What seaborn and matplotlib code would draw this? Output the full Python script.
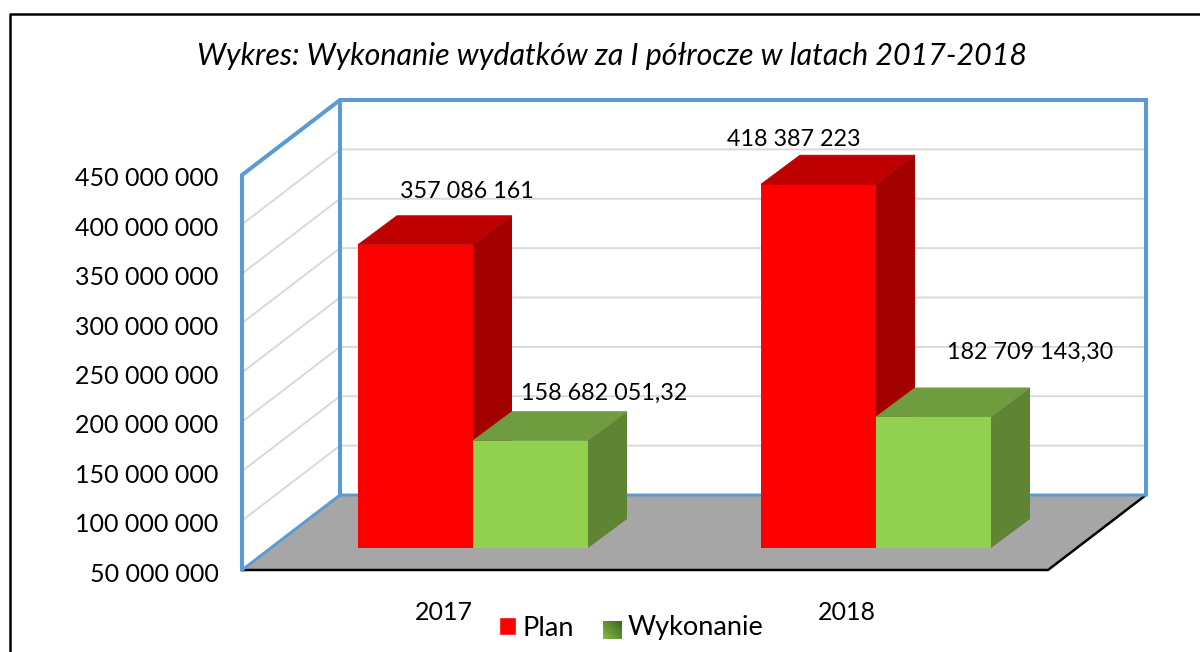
# -*- coding: utf-8 -*-
"""Wykonanie wydatkow - pseudo 3D column chart built on seaborn bars."""

import numpy as np
import pandas as pd
import matplotlib
matplotlib.use("Agg")
import matplotlib.pyplot as plt
from matplotlib.lines import Line2D
from matplotlib.patches import Patch, Polygon
from matplotlib.transforms import ScaledTranslation
import seaborn as sns

years = ["2017", "2018"]
plan_values = [357086161, 418387223]
done_values = [158682051.32, 182709143.30]
plan_labels = ["357 086 161", "418 387 223"]
done_labels = ["158 682 051,32", "182 709 143,30"]
tick_values = [50, 100, 150, 200, 250, 300, 350, 400, 450]
tick_labels = [f"{v} 000 000" for v in tick_values]
series_names = ["Plan", "Wykonanie"]

# colours
RED, RED_TOP, RED_SIDE = "#FF0000", "#BF0000", "#A30000"
GREEN, GREEN_TOP, GREEN_SIDE = "#92D050", "#6F9C3E", "#5F8534"
BLUE = "#5B9BD5"
GRID = "#D9D9D9"
FLOOR = "#A6A6A6"

W, H = 1200, 652
PX_PER_CAT = 403.0
PX_PER_UNIT = 395.0 / 400e6
FLOOR_DX, FLOOR_DY = 98 / PX_PER_CAT, 75 / PX_PER_UNIT
BAR_DX, BAR_DY = 39 / PX_PER_CAT, 29 / PX_PER_UNIT
YMIN, YMAX = 50e6, 450e6

sns.set_theme(style="white")
plt.rcParams["font.family"] = ["Lato", "DejaVu Sans"]
plt.rcParams["text.color"] = "black"
FS = 18
FS_VALUE = 16.8
FS_LEGEND = 19.5


def px_axes(fig, left, right, top, bottom):
    return fig.add_axes([left / W, (H - bottom) / H, (right - left) / W, (bottom - top) / H])


fig = plt.figure(figsize=(W / 100, H / 100), dpi=100, facecolor="white")

# walls and floor, on the front plane of the chart box
wall_ax = px_axes(fig, 242, 1048, 175, 570)
wall_ax.set_zorder(1)
wall_ax.patch.set_alpha(0)
wall_ax.set_xlim(-0.5, 1.5)
wall_ax.set_ylim(YMIN, YMAX)
x0, x1 = -0.5, 1.5
back_y0, back_y1 = YMIN + FLOOR_DY, YMAX + FLOOR_DY
wall_ax.add_patch(Polygon(
    [(x0, YMIN), (x1, YMIN), (x1 + FLOOR_DX, back_y0), (x0 + FLOOR_DX, back_y0)],
    facecolor=FLOOR, edgecolor="none", clip_on=False, zorder=1))
for v in tick_values[1:-1]:
    v = v * 1e6
    wall_ax.plot([x0, x0 + FLOOR_DX, x1 + FLOOR_DX], [v, v + FLOOR_DY, v + FLOOR_DY],
                 color=GRID, lw=1.4, clip_on=False, zorder=2)
wall_ax.plot([x0, x1, x1 + FLOOR_DX], [YMIN, YMIN, back_y0],
             color="black", lw=1.8, clip_on=False, zorder=3)
wall_ax.plot([x0, x0, x0 + FLOOR_DX, x1 + FLOOR_DX, x1 + FLOOR_DX],
             [YMIN, YMAX, back_y1, back_y1, back_y0],
             color=BLUE, lw=2.9, clip_on=False, zorder=4, solid_joinstyle="miter")
wall_ax.plot([x0 + FLOOR_DX, x0 + FLOOR_DX], [back_y0, back_y1],
             color=BLUE, lw=2.9, clip_on=False, zorder=4)
wall_ax.plot([x0, x0 + FLOOR_DX, x1 + FLOOR_DX], [YMIN, back_y0, back_y0],
             color=BLUE, lw=2.1, clip_on=False, zorder=4)
wall_ax.set_xticks([0, 1], years, fontsize=FS)
wall_ax.set_yticks([v * 1e6 for v in tick_values], tick_labels, fontsize=FS)
wall_ax.tick_params(axis="both", length=0, labelcolor="black")
wall_ax.tick_params(axis="y", pad=17)
wall_ax.tick_params(axis="x", pad=22)
wall_ax.grid(False)
down_2px = ScaledTranslation(0, -2 / 100, fig.dpi_scale_trans)
for lab in wall_ax.get_yticklabels():
    lab.set_transform(lab.get_transform() + down_2px)
sns.despine(ax=wall_ax, left=True, bottom=True)

# bars, the axes bottom sits on the bars foot so they get cut at 50 mln
ax = px_axes(fig, 271.5, 1077.5, 153, 548)
ax.set_zorder(2)
ax.patch.set_alpha(0)
df = pd.DataFrame({
    "rok": years * 2,
    "seria": [series_names[0]] * 2 + [series_names[1]] * 2,
    "kwota": plan_values + done_values,
})
sns.barplot(data=df, x="rok", y="kwota", hue="seria", palette=[RED, GREEN],
            width=230 / PX_PER_CAT, saturation=1, legend=False, ax=ax)
ax.set_xlim(-0.5, 1.5)
ax.set_ylim(YMIN, YMAX)

styles = [(RED_TOP, RED_SIDE, 2), (GREEN_TOP, GREEN_SIDE, 3)]
for cont, (top_col, side_col, z) in zip(ax.containers, styles):
    for bar in cont.patches:
        bar.set_linewidth(0)
        bar.set_zorder(z + 2 if z == 3 else 1)
        l, r, v = bar.get_x(), bar.get_x() + bar.get_width(), bar.get_height()
        ax.add_patch(Polygon(
            [(l, v), (r, v), (r + BAR_DX, v + BAR_DY), (l + BAR_DX, v + BAR_DY)],
            facecolor=top_col, edgecolor=top_col, lw=0.6, clip_on=False, zorder=z))
        ax.add_patch(Polygon(
            [(r, YMIN), (r, v), (r + BAR_DX, v + BAR_DY), (r + BAR_DX, YMIN + BAR_DY)],
            facecolor=side_col, edgecolor="none", clip_on=False, zorder=z))

# value labels were moved by hand in the original, so offsets differ per label
plan_offsets = [(51, 53), (-25, 45)]
done_offsets = [(74, 47), (97, 65)]
all_labels = [plan_labels, done_labels]
all_offsets = [plan_offsets, done_offsets]
for cont, labels, offsets in zip(ax.containers, all_labels, all_offsets):
    for bar, txt, off in zip(cont.patches, labels, offsets):
        ax.annotate(txt, xy=(bar.get_x() + bar.get_width() / 2, bar.get_height()),
                    xytext=off, textcoords="offset pixels", ha="center", va="center",
                    fontsize=FS_VALUE, zorder=10, annotation_clip=False)
ax.set(xlabel="", ylabel="", xticks=[], yticks=[])
sns.despine(ax=ax, left=True, bottom=True)

fig.text(612 / W, 1 - 56 / H, "Wykres: Wykonanie wydatków za I półrocze w latach 2017-2018",
         ha="center", va="center", style="italic", fontsize=21.9)

# legend, the green key itself is the gradient below
handles = [Patch(facecolor=RED), Patch(facecolor="none", edgecolor="none")]
leg = fig.legend(handles, series_names, loc="center", bbox_to_anchor=(631.5 / W, 1 - 628 / H),
                 ncol=2, frameon=False, fontsize=FS_LEGEND, handlelength=0.63, handleheight=0.63,
                 handletextpad=0.22, columnspacing=1.14, borderpad=0)

key_ax = px_axes(fig, 603, 621, 621, 639)
key_ax.set_zorder(5)
gx, gy = np.meshgrid(np.linspace(0, 1, 20), np.linspace(0, 1, 20))
key_ax.imshow((1 - gx) * 0.5 + gy * 0.5, cmap=sns.blend_palette(["#3F6226", "#82BC46"], as_cmap=True),
              aspect="auto", origin="upper")
key_ax.axis("off")

# frame of the source screenshot, only top and left show
fig.add_artist(Line2D([9.5 / W, 9.5 / W, 1], [0, 1 - 13.5 / H, 1 - 13.5 / H],
                      color="black", lw=1.8, transform=fig.transFigure))

fig.savefig("out.png", dpi=100)
